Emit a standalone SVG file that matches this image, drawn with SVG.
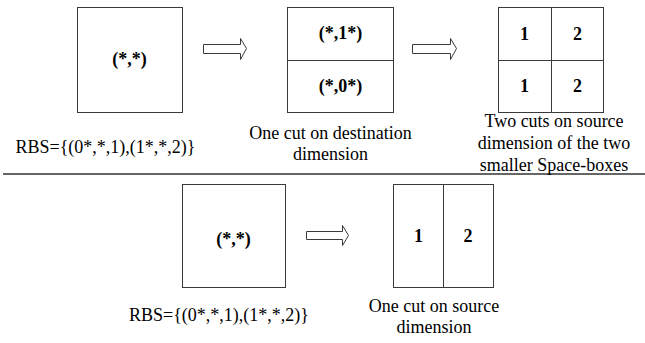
<svg xmlns="http://www.w3.org/2000/svg" width="645" height="343" viewBox="0 0 645 343">
<style>
.box{fill:#fff;stroke:#3a3a3a;stroke-width:1}
.ln{stroke:#3a3a3a;stroke-width:1;fill:none}
.arr{fill:#fff;stroke:#3a3a3a;stroke-width:1}
.lbl{font-family:"Liberation Serif","Times New Roman",serif;font-size:18px;font-weight:bold;fill:#000;text-anchor:middle}
.cap{font-family:"Liberation Serif","Times New Roman",serif;font-size:18px;fill:#000;text-anchor:middle}
</style>
<rect width="645" height="343" fill="#fff"/>
<g id="box1">
<rect class="box" x="77.5" y="7.5" width="105" height="105"/>
<text class="lbl" x="129.5" y="65">(*,*)</text>
</g>
<g id="box2">
<rect class="box" x="287.5" y="7.5" width="106" height="105"/>
<line class="ln" x1="287.5" y1="60.5" x2="393.5" y2="60.5"/>
<text class="lbl" x="340.5" y="39">(*,1*)</text>
<text class="lbl" x="340.5" y="92">(*,0*)</text>
</g>
<g id="box3">
<rect class="box" x="498.5" y="7.5" width="105" height="105"/>
<line class="ln" x1="551.5" y1="7.5" x2="551.5" y2="112.5"/>
<line class="ln" x1="498.5" y1="60.5" x2="603.5" y2="60.5"/>
<text class="lbl" x="524.5" y="40">1</text>
<text class="lbl" x="577.5" y="40">2</text>
<text class="lbl" x="524.5" y="92">1</text>
<text class="lbl" x="577.5" y="92">2</text>
</g>
<g id="box4">
<rect class="box" x="182.5" y="184.5" width="103" height="103"/>
<text class="lbl" x="233.5" y="245">(*,*)</text>
</g>
<g id="box5">
<rect class="box" x="393.5" y="184.5" width="100" height="103"/>
<line class="ln" x1="443.5" y1="184.5" x2="443.5" y2="287.5"/>
<text class="lbl" x="418.5" y="242">1</text>
<text class="lbl" x="468" y="242">2</text>
</g>
<g id="connectors">
<polygon class="arr" points="203.5,44.5 240.5,44.5 240.5,38.5 246.5,48.5 240.5,59.5 240.5,53.5 203.5,53.5"/>
<polygon class="arr" points="412.5,44.5 450.5,44.5 450.5,38.5 456.5,48.5 450.5,59.5 450.5,53.5 412.5,53.5"/>
<polygon class="arr" points="306.5,231.5 342.5,231.5 342.5,225.5 348.5,235.5 342.5,245.5 342.5,239.5 306.5,239.5"/>
</g>
<line x1="3" y1="174" x2="645" y2="174" stroke="#666" stroke-width="2"/>
<g id="captions">
<text class="cap" x="105.5" y="153">RBS={(0*,*,1),(1*,*,2)}</text>
<text class="cap" x="330.5" y="139">One cut on destination</text>
<text class="cap" x="330.5" y="160">dimension</text>
<text class="cap" x="554" y="127">Two cuts on source</text>
<text class="cap" x="554" y="149">dimension of the two</text>
<text class="cap" x="554" y="171">smaller Space-boxes</text>
<text class="cap" x="219" y="321">RBS={(0*,*,1),(1*,*,2)}</text>
<text class="cap" x="434" y="312">One cut on source</text>
<text class="cap" x="434" y="333">dimension</text>
</g>
</svg>
